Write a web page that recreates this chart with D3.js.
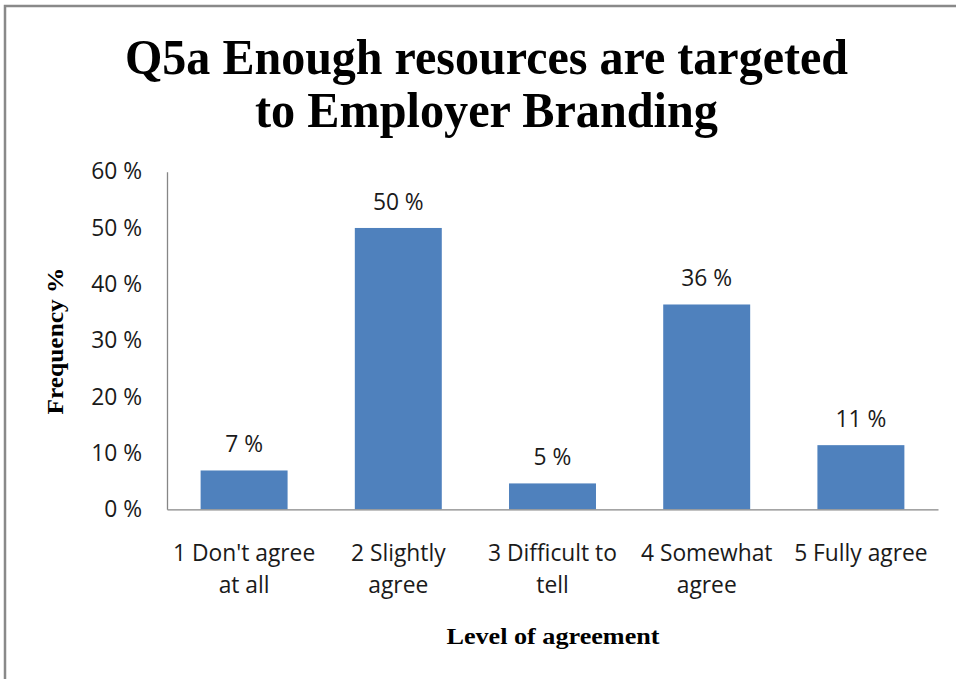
<!DOCTYPE html>
<html>
<head>
<meta charset="utf-8">
<script src="https://cdn.jsdelivr.net/npm/d3@7"></script>
<style>
  html, body { margin: 0; padding: 0; background: #ffffff; overflow: hidden; }
  svg { display: block; }
</style>
</head>
<body>
<svg id="chart" width="956" height="679"></svg>
<script>
// Survey answers: level of agreement (one entry per answer, split into label lines)
const categories = [
  ["1 Don't agree", "at all"],
  ["2 Slightly", "agree"],
  ["3 Difficult to", "tell"],
  ["4 Somewhat", "agree"],
  ["5 Fully agree"]
];
// Share of respondents per answer, in percent
const frequency = [6.9, 50.0, 4.6, 36.4, 11.4];
// Value axis ticks, in percent
const yTicks = [0, 10, 20, 30, 40, 50, 60];

const titleLines = ["Q5a Enough resources are targeted", "to Employer Branding"];
const yTitle = "Frequency %";
const xTitle = "Level of agreement";

const W = 956, H = 679;
const plot = { left: 167, right: 938, top: 171.7, bottom: 509.3 };
const sansFont = "'Open Sans', sans-serif";
const serifFont = "'Liberation Serif', 'Times New Roman', serif";
const axisColor = "#868686";
const barColor = "#4F81BD";
const textColor = "#1a1a1a";
const labelSize = 22.8;

const svg = d3.select("#chart");

svg.append("rect").attr("width", W).attr("height", H).attr("fill", "#ffffff");

// Outer chart frame (runs off the right and bottom edges)
svg.append("rect")
  .attr("x", 5).attr("y", 6)
  .attr("width", 1200).attr("height", 1200)
  .attr("fill", "none")
  .attr("stroke", "#898989")
  .attr("stroke-width", 2.5);

const keys = categories.map(c => c.join(" "));

const x = d3.scaleBand()
  .domain(keys)
  .range([plot.left, plot.right])
  .paddingInner(0.436)
  .paddingOuter(0.218);

const y = d3.scaleLinear()
  .domain([0, 60])
  .range([plot.bottom, plot.top]);

// Title, condensed to fit its line widths
const title = svg.append("text")
  .attr("text-anchor", "middle")
  .attr("font-family", serifFont)
  .attr("font-weight", "bold")
  .attr("font-size", 50)
  .attr("fill", "#000");
const titleWidths = [723, 463];
const titleBaselines = [74, 127];
titleLines.forEach((line, i) => {
  title.append("tspan")
    .attr("x", 486.5)
    .attr("y", titleBaselines[i])
    .attr("textLength", titleWidths[i])
    .attr("lengthAdjust", "spacingAndGlyphs")
    .text(line);
});

// Bars
svg.append("g")
  .selectAll("rect")
  .data(frequency)
  .join("rect")
  .attr("x", (d, i) => x(keys[i]))
  .attr("y", d => y(d))
  .attr("width", x.bandwidth())
  .attr("height", d => y(0) - y(d))
  .attr("fill", barColor);

// Value axis
const yAxis = svg.append("g")
  .attr("transform", `translate(${plot.left},0)`)
  .call(d3.axisLeft(y)
    .tickValues(yTicks)
    .tickSize(0)
    .tickSizeOuter(0)
    .tickPadding(25)
    .tickFormat(d => d + " %"));
yAxis.select(".domain").attr("stroke", axisColor).attr("stroke-width", 1.3);
yAxis.selectAll(".tick text")
  .attr("font-family", sansFont)
  .attr("font-size", labelSize)
  .attr("fill", textColor);

// Category axis
const xAxis = svg.append("g")
  .attr("transform", `translate(0,${plot.bottom})`)
  .call(d3.axisBottom(x)
    .tickSize(0)
    .tickSizeOuter(0)
    .tickFormat(""));
xAxis.select(".domain").attr("stroke", axisColor).attr("stroke-width", 1.3);
xAxis.selectAll(".tick text").remove();
xAxis.selectAll(".tick").each(function (d, i) {
  const t = d3.select(this).append("text")
    .attr("text-anchor", "middle")
    .attr("font-family", sansFont)
    .attr("font-size", labelSize)
    .attr("fill", textColor);
  categories[i].forEach((line, j) => {
    t.append("tspan")
      .attr("x", 0)
      .attr("y", 51.4 + j * 32)
      .text(line);
  });
});

// Value labels above the bars
svg.append("g")
  .selectAll("text")
  .data(frequency)
  .join("text")
  .attr("x", (d, i) => x(keys[i]) + x.bandwidth() / 2)
  .attr("y", d => y(d) - 18)
  .attr("text-anchor", "middle")
  .attr("font-family", sansFont)
  .attr("font-size", labelSize)
  .attr("fill", textColor)
  .text(d => Math.round(d) + " %");

// Axis titles
svg.append("text")
  .attr("transform", "translate(63,341) rotate(-90)")
  .attr("text-anchor", "middle")
  .attr("font-family", serifFont)
  .attr("font-weight", "bold")
  .attr("font-size", 24)
  .attr("textLength", 147)
  .attr("lengthAdjust", "spacingAndGlyphs")
  .attr("fill", "#000")
  .text(yTitle);

svg.append("text")
  .attr("x", 553)
  .attr("y", 644)
  .attr("text-anchor", "middle")
  .attr("font-family", serifFont)
  .attr("font-weight", "bold")
  .attr("font-size", 24)
  .attr("textLength", 213)
  .attr("lengthAdjust", "spacingAndGlyphs")
  .attr("fill", "#000")
  .text(xTitle);
</script>
</body>
</html>
